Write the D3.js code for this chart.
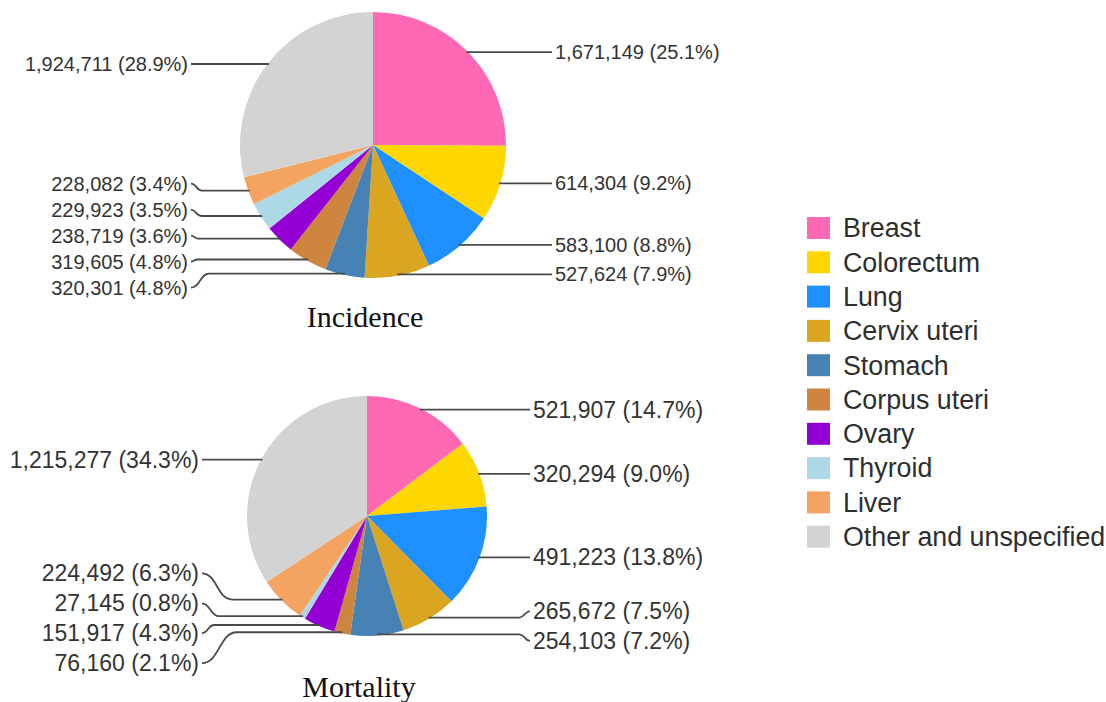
<!DOCTYPE html>
<html>
<head>
<meta charset="UTF-8">
<title>Incidence and mortality</title>
<style>
body {
	margin: 0 ;
	background-color: #ffffff ;
	font-family: Arial, "Liberation Sans", Helvetica, sans-serif ;
}
.lbl {
	fill: #333 ;
}
.leader {
	fill: none ;
	stroke: #4a4a4a ;
	stroke-width: 1.8 ;
}
.title {
	font-family: "Times New Roman", "Liberation Serif", serif ;
	font-size: 30px ;
	fill: #111 ;
}
.legend text {
	font-size: 26.8px ;
	fill: #2e2e2e ;
}
</style>
<script src="https://cdn.jsdelivr.net/npm/d3@7"></script>
</head>
<body>
<div id="chart"></div>

<script type="text/javascript">

const sites = [ "Breast", "Colorectum", "Lung", "Cervix uteri", "Stomach",
	"Corpus uteri", "Ovary", "Thyroid", "Liver", "Other and unspecified" ] ;

const siteColors = [ "#ff69b4", "#ffd700", "#1e90ff", "#daa520", "#4682b4",
	"#cd853f", "#9400d3", "#add8e6", "#f4a460", "#d3d3d3" ] ;

const incidence = [ 1671149, 614304, 583100, 527624, 320301,
	319605, 238719, 229923, 228082, 1924711 ] ;

const mortality = [ 521907, 320294, 491223, 265672, 254103,
	76160, 151917, 27145, 224492, 1215277 ] ;

const width = 1106 ;
const height = 702 ;

const svg = d3.select( "#chart" ).append( "svg" )
	.attr( "width", width )
	.attr( "height", height ) ;

const color = d3.scaleOrdinal().domain( sites ).range( siteColors ) ;
const fmt = d3.format( "," ) ;

// push labels apart when they are too close, each crowded group is centred on its own mean
function spread( items, gap ) {
	items.sort( function(a, b) { return a.ay - b.ay } ) ;
	let groups = items.map( function(d) { return { members: [d], mean: d.ay } } ) ;
	let changed = true ;
	while( changed ) {
		changed = false ;
		for( let i=1 ; i<groups.length ; i++ ) {
			const a = groups[i-1], b = groups[i] ;
			const aBottom = a.mean + gap*(a.members.length-1)/2 ;
			const bTop = b.mean - gap*(b.members.length-1)/2 ;
			if( bTop - aBottom < gap ) {
				const m = a.members.concat( b.members ) ;
				groups.splice( i-1, 2, { members: m, mean: d3.mean( m, function(d) { return d.ay } ) } ) ;
				changed = true ;
				break ;
			}
		}
	}
	groups.forEach( function(g) {
		g.members.forEach( function(d, i) {
			d.ly = g.mean + gap*( i - (g.members.length-1)/2 ) ;
		})
	}) ;
}

function drawPie( values, cx, cy, r, fontSize, offR, offL, title, titleY ) {
	const total = d3.sum( values ) ;
	const pie = d3.pie().sort( null ).value( function(d) { return d.value } ) ;
	const arc = d3.arc().innerRadius( 0 ).outerRadius( r ) ;
	const data = pie( values.map( function(v, i) { return { site: sites[i], value: v } } ) ) ;

	const g = svg.append( "g" ).attr( "transform", "translate(" + cx + "," + cy + ")" ) ;

	g.selectAll( "path.slice" )
		.data( data )
		.enter()
			.append( "path" )
				.attr( "class", "slice" )
				.attr( "d", arc )
				.attr( "fill", function(d) { return color( d.data.site ) } ) ;

	const labels = data.map( function(d) {
		const a = ( d.startAngle + d.endAngle ) / 2 ;
		return {
			d: d,
			ax: Math.sin( a ) * r * 0.99,
			ay: -Math.cos( a ) * r * 0.99,
			right: a < Math.PI
		} ;
	}) ;

	const gap = fontSize * 1.3 ;
	spread( labels.filter( function(l) { return l.right } ), gap ) ;
	spread( labels.filter( function(l) { return !l.right } ), gap ) ;

	function off( l ) { return l.right ? r + offR : -( r + offL ) }

	g.selectAll( "path.leader" )
		.data( labels )
		.enter()
			.append( "path" )
				.attr( "class", "leader" )
				.attr( "d", function(l) {
					const s = l.right ? 1 : -1 ;
					const end = off( l ) - s*3 ;
					const dy = Math.abs( l.ly - l.ay ) ;
					const k = dy > 0.5 ? dy + 4 : 0 ;
					const p = d3.path() ;
					p.moveTo( l.ax, l.ay ) ;
					p.lineTo( end - s*k, l.ay ) ;
					p.bezierCurveTo( end - s*k/2, l.ay, end - s*k/2, l.ly, end, l.ly ) ;
					return p.toString() ;
				}) ;

	g.selectAll( "text.lbl" )
		.data( labels )
		.enter()
			.append( "text" )
				.attr( "class", "lbl" )
				.attr( "x", off )
				.attr( "y", function(l) { return l.ly } )
				.attr( "dy", "0.35em" )
				.attr( "font-size", fontSize + "px" )
				.attr( "text-anchor", function(l) { return l.right ? "start" : "end" } )
				.text( function(l) {
					return fmt( l.d.data.value ) + " (" + ( 100*l.d.data.value/total ).toFixed(1) + "%)" ;
				}) ;

	svg.append( "text" )
		.attr( "class", "title" )
		.attr( "x", cx - 8 )
		.attr( "y", titleY )
		.attr( "text-anchor", "middle" )
		.text( title ) ;
}

drawPie( incidence, 373, 145, 133, 20, 49, 52, "Incidence", 327 ) ;
drawPie( mortality, 367, 516, 120, 23, 46, 48, "Mortality", 697 ) ;

// legend
const legend = svg.append( "g" )
	.attr( "class", "legend" )
	.attr( "transform", "translate(807,228)" ) ;

const rowH = 34.3 ;
const rows = legend.selectAll( "g" )
	.data( sites )
	.enter()
		.append( "g" )
			.attr( "transform", function(d, i) { return "translate(0," + i*rowH + ")" } ) ;

rows.append( "rect" )
	.attr( "x", 0 )
	.attr( "y", -11 )
	.attr( "width", 23 )
	.attr( "height", 22 )
	.attr( "fill", function(d) { return color( d ) } ) ;

rows.append( "text" )
	.attr( "x", 36 )
	.attr( "y", 0 )
	.attr( "dy", "0.35em" )
	.text( function(d) { return d } ) ;

</script>
</body>
</html>
